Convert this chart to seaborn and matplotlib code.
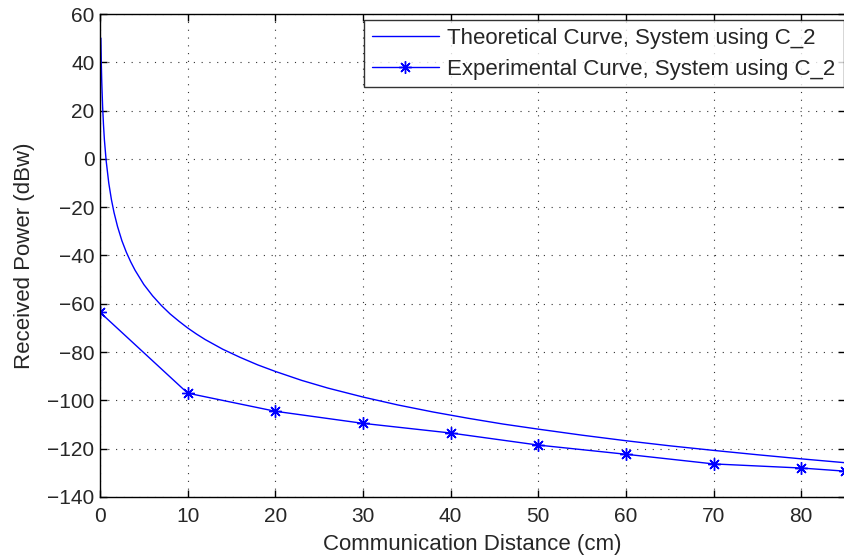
import numpy as np
import pandas as pd
import seaborn as sns
import matplotlib.pyplot as plt

# theoretical curve
theo_dist = [0.1, 0.15, 0.2, 0.3, 0.4, 0.5, 0.7, 1, 1.3, 1.6, 2, 2.5, 3, 3.5, 4,
             5, 6, 7, 8, 9, 10, 11, 12, 14, 16, 18, 20, 23, 26, 30, 34, 38, 42,
             46, 50, 55, 60, 65, 70, 75, 80, 85]
theo_power = [50, 39.5, 32, 21.5, 14, 8, -0.7, -10, -16.8, -22.2, -28, -33.9, -38.6,
              -42.6, -46.1, -52, -56.7, -60.7, -64.2, -67.2, -70, -72.5, -74.8,
              -78.8, -82.2, -85.3, -88, -91.7, -94.9, -98.6, -101.9, -104.8,
              -107.4, -109.8, -111.9, -114.4, -116.7, -118.8, -120.7, -122.5,
              -124.2, -125.8]

# experimental measurements
exp_dist = [0, 10, 20, 30, 40, 50, 60, 70, 80, 85]
exp_power = [-63.5, -97, -104.5, -109.5, -113.5, -118.5, -122.3, -126.3, -128, -129.3]

x_ticks = [0, 10, 20, 30, 40, 50, 60, 70, 80]
y_ticks = [-140, -120, -100, -80, -60, -40, -20, 0, 20, 40, 60]

sns.set_theme(style="white")
plt.rcParams['font.family'] = ['Liberation Sans', 'DejaVu Sans']

fig = plt.figure(figsize=(8.45, 5.58), dpi=100)
ax = fig.add_axes([100 / 845, 1 - 497 / 558, 1 - 100 / 845, (497 - 14) / 558])

theo = pd.DataFrame({"dist": theo_dist, "power": theo_power})
expe = pd.DataFrame({"dist": exp_dist, "power": exp_power})

sns.lineplot(data=theo, x="dist", y="power", ax=ax, color="#0000ff", lw=1,
             label="Theoretical Curve, System using C_2")
sns.lineplot(data=expe, x="dist", y="power", ax=ax, color="#0000ff", lw=1,
             marker=(8, 2, 0), markersize=9, markeredgecolor="#0000ff",
             markeredgewidth=1, label="Experimental Curve, System using C_2")

ax.set_xlim(0, 85)
ax.set_ylim(-140, 60)
ax.set_xticks(x_ticks)
ax.set_yticks(y_ticks)
ax.tick_params(direction="in", length=5, width=1, labelsize=15, color="black",
               top=True, right=True, bottom=True, left=True, pad=4)
ax.tick_params(axis="x", pad=7)
ax.grid(True, linestyle=(0, (1, 6)), color="#333333", linewidth=0.8)
for s in ax.spines.values():
    s.set_color("black")
    s.set_linewidth(1)

ax.set_xlabel("Communication Distance (cm)", fontsize=16, labelpad=6)
ax.set_ylabel("Received Power (dBw)", fontsize=16, labelpad=9)

leg = ax.legend(loc="upper right", bbox_to_anchor=(0.998, 0.988), fontsize=16,
                handlelength=3, numpoints=1, frameon=True, fancybox=False,
                borderaxespad=0, labelspacing=0.45, borderpad=0.35,
                handletextpad=0.4)
leg.get_frame().set_edgecolor("black")
leg.get_frame().set_linewidth(1)

fig.savefig("out.png", dpi=100)
